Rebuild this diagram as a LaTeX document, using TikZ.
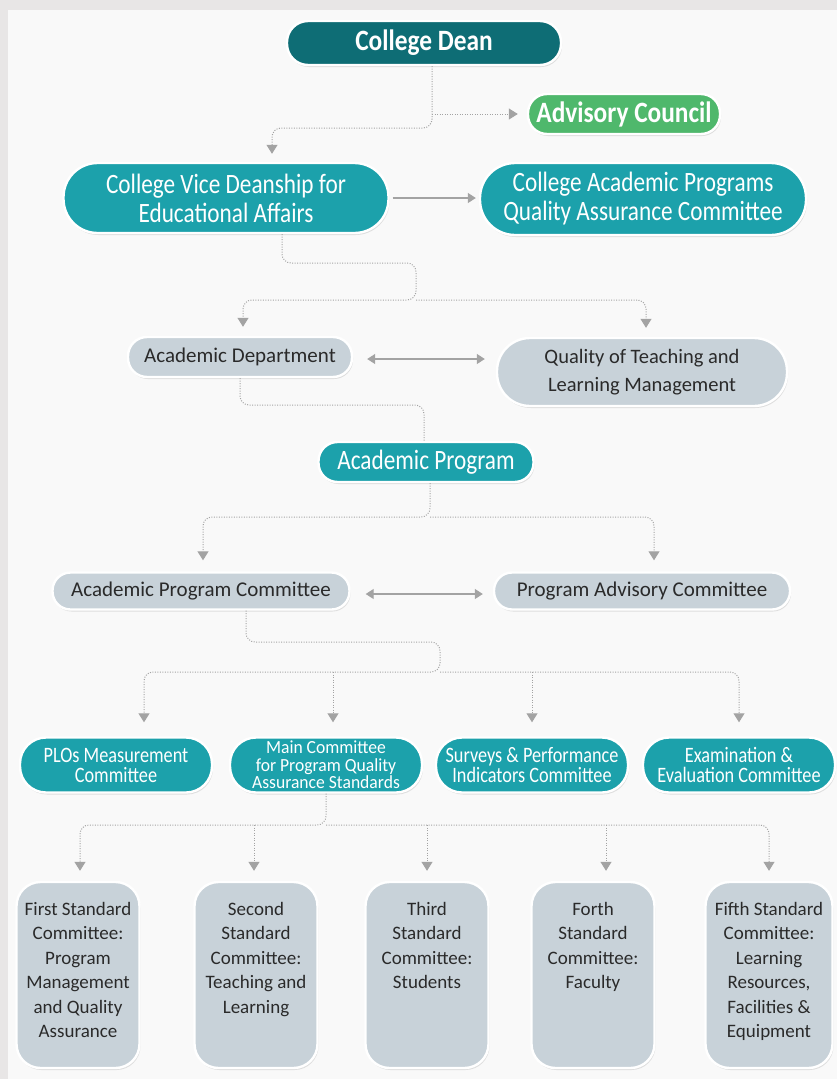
\documentclass[tikz,border=0pt]{standalone}
\usepackage{fontspec}
\setmainfont{Carlito}
\newfontfamily\tealfont{Carlito}[FakeStretch=0.83]
\newfontfamily\maincfont{Carlito}[FakeStretch=0.95]
\newfontfamily\headfont{Carlito}[FakeStretch=0.86]
\usetikzlibrary{arrows.meta,shadows}
\definecolor{framegray}{HTML}{E8E6E6}
\definecolor{paper}{HTML}{F9F9F9}
\definecolor{deanteal}{HTML}{0E6D75}
\definecolor{tealA}{HTML}{1CA1AB}
\definecolor{greenA}{HTML}{4FB86C}
\definecolor{grayA}{HTML}{C8D2D9}
\definecolor{conngray}{HTML}{A3A3A3}
\definecolor{ink}{HTML}{2A2A2A}
\begin{document}
\begin{tikzpicture}[x=1pt,y=-1pt,
  box/.style={draw=white, line width=2.4pt, inner sep=0pt, align=center,
    drop shadow={opacity=0.22, shadow xshift=1pt, shadow yshift=-2pt}},
  tealbox/.style={box, fill=tealA, text=white, font=\tealfont\fontsize{28}{29}\selectfont},
  tealsmall/.style={box, fill=tealA, text=white, font=\tealfont\fontsize{22}{20}\selectfont,
    minimum width=192pt, minimum height=55pt, rounded corners=26pt},
  headbox/.style={box, text=white, font=\headfont\bfseries\fontsize{29.5}{30}\selectfont},
  graybox/.style={box, fill=grayA, text=ink, font=\fontsize{21}{28}\selectfont},
  stdbox/.style={box, fill=grayA, text=ink, font=\fontsize{19}{24.5}\selectfont,
    minimum width=123pt, minimum height=186pt, rounded corners=24pt},
  conn/.style={draw=conngray, line width=1pt, dash pattern=on 1pt off 1.5pt, rounded corners=9pt},
  tip/.style={-{Triangle[width=11pt,length=9pt]}},
  sol/.style={draw=conngray, line width=1.3pt},
]
\useasboundingbox (0,0) rectangle (837,1079);
\fill[framegray] (0,0) rectangle (837,1079);
\fill[paper] (8,10) rectangle (837,1079);

% nodes
\node[headbox, fill=deanteal, minimum width=274pt, minimum height=44pt, rounded corners=21pt] (dean) at (424,43) {College Dean};
\node[headbox, fill=greenA, minimum width=192pt, minimum height=40pt, rounded corners=19pt] (adv) at (624,114) {Advisory Council};
\node[tealbox, minimum width=325pt, minimum height=70pt, rounded corners=34pt] (vice) at (226,198) {College Vice Deanship for\\Educational Affairs};
\node[tealbox, minimum width=326pt, minimum height=72pt, rounded corners=35pt] (qa) at (643,199) {College Academic Programs\\Quality Assurance Committee};
\node[graybox, minimum width=224pt, minimum height=40pt, rounded corners=19pt] (dept) at (240,357) {Academic Department};
\node[graybox, font=\fontsize{20.5}{28}\selectfont, minimum width=290pt, minimum height=68pt, rounded corners=33pt] (qtl) at (642,372) {Quality of Teaching and\\Learning Management};
\node[tealbox, minimum width=215pt, minimum height=40pt, rounded corners=19pt] (prog) at (426,462) {Academic Program};
\node[graybox, minimum width=297pt, minimum height=37pt, rounded corners=18pt] (apc) at (201,591) {Academic Program Committee};
\node[graybox, minimum width=296pt, minimum height=37pt, rounded corners=18pt] (pac) at (642,591) {Program Advisory Committee};

\node[tealsmall] (plo) at (116,765) {PLOs Measurement\\Committee};
\node[tealsmall, font=\maincfont\fontsize{18.5}{17.5}\selectfont] (main) at (326,765) {Main Committee\\for Program Quality\\Assurance Standards};
\node[tealsmall] (surv) at (532,765) {Surveys \& Performance\\Indicators Committee};
\node[tealsmall] (exam) at (739,765) {Examination \&\\Evaluation Committee};

\node[stdbox] (s1) at (78,975) {\parbox[c][186pt][t]{122pt}{\centering\rule{0pt}{33pt}First Standard\\Committee:\\Program\\Management\\and Quality\\Assurance}};
\node[stdbox] (s2) at (256,975) {\parbox[c][186pt][t]{122pt}{\centering\rule{0pt}{33pt}Second\\Standard\\Committee:\\Teaching and\\Learning}};
\node[stdbox] (s3) at (427,975) {\parbox[c][186pt][t]{122pt}{\centering\rule{0pt}{33pt}Third\\Standard\\Committee:\\Students}};
\node[stdbox] (s4) at (593,975) {\parbox[c][186pt][t]{122pt}{\centering\rule{0pt}{33pt}Forth\\Standard\\Committee:\\Faculty}};
\node[stdbox, minimum width=127pt] (s5) at (769,975) {\parbox[c][186pt][t]{126pt}{\centering\rule{0pt}{33pt}Fifth Standard\\Committee:\\Learning\\Resources,\\Facilities \&\\Equipment}};

% connectors
\coordinate (jAdv) at (432,114);
\draw[conn, tip] ([xshift=8pt]dean.south) -- (432,128) -- (272,128) -- ([xshift=46pt,yshift=8pt]vice.north);
\draw[conn, tip] (jAdv) -- ([xshift=-9pt]adv.west);
\draw[sol, -{Triangle[width=10pt,length=8pt]}] ([xshift=3pt]vice.east) -- ([xshift=-3pt]vice.east -| qa.west);

\coordinate (jV) at (416,300);
\draw[conn, tip] ([xshift=56pt]vice.south) -- (282,263) -- (416,263) -- (jV) -- (243,300) -- ([xshift=3pt,yshift=9pt]dept.north);
\draw[conn, tip] (jV) -- (646,300) -- ([xshift=4pt,yshift=9pt]qtl.north);
\draw[sol, {Triangle[width=10pt,length=8pt]}-{Triangle[width=10pt,length=8pt]}] ([xshift=14pt,yshift=-2pt]dept.east) -- ([xshift=-11pt,yshift=-2pt]dept.east -| qtl.west);

\draw[conn] (dept.south) -- (240,405) -- (424,405) -- ([xshift=-2pt]prog.north);

\coordinate (jP) at (430,517);
\draw[conn, tip] ([xshift=4pt]prog.south) -- (jP) -- (203,517) -- ([xshift=2pt,yshift=11pt]apc.north);
\draw[conn, tip] (jP) -- (654,517) -- ([xshift=12pt,yshift=11pt]pac.north);
\draw[sol, {Triangle[width=10pt,length=8pt]}-{Triangle[width=10pt,length=8pt]}] ([xshift=15pt,yshift=-3pt]apc.east) -- ([xshift=-10pt,yshift=-3pt]pac.west);

\coordinate (jA) at (440,672);
\draw[conn, tip] ([xshift=45pt]apc.south) -- (246,642) -- (440,642) -- (jA) -- (144,672) -- ([xshift=28pt,yshift=14pt]plo.north);
\draw[conn, tip] (jA) -- (739,672) -- ([yshift=14pt]exam.north);
\draw[conn, tip] (333,672) -- ([xshift=7pt,yshift=14pt]main.north);
\draw[conn, tip] (532,672) -- ([yshift=14pt]surv.north);

\coordinate (jM) at (326,825);
\draw[conn, tip] (main.south) -- (jM) -- (80,825) -- ([xshift=2pt,yshift=10pt]s1.north);
\draw[conn, tip] (jM) -- (769,825) -- ([yshift=10pt]s5.north);
\draw[conn, tip] (254,825) -- ([xshift=-2pt,yshift=10pt]s2.north);
\draw[conn, tip] (427,825) -- ([yshift=10pt]s3.north);
\draw[conn, tip] (606,825) -- ([xshift=13pt,yshift=10pt]s4.north);
\end{tikzpicture}
\end{document}
